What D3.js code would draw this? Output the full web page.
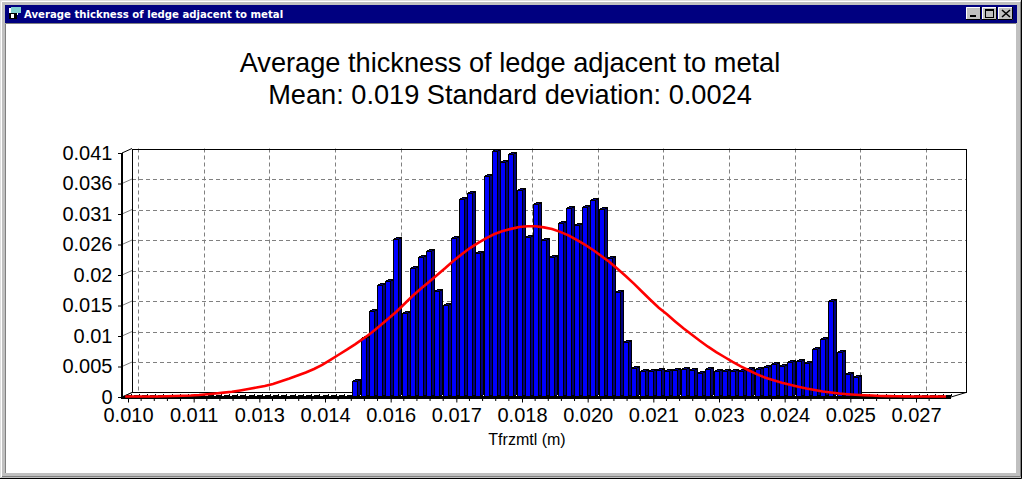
<!DOCTYPE html>
<html><head><meta charset="utf-8">
<script src="https://cdn.jsdelivr.net/npm/d3@7/dist/d3.min.js"></script>
<style>html,body{margin:0;padding:0;background:#fff;overflow:hidden}svg{display:block}</style>
</head><body><svg id="c" width="1022" height="479"></svg>
<script>
const windowTitle = "Average thickness of ledge adjacent to metal";
const titleLines = ["Average thickness of ledge adjacent to metal", "Mean: 0.019 Standard deviation: 0.0024"];
const xLabel = "Tfrzmtl (m)";
const xTickValues = [0.0100,0.0114,0.0128,0.0142,0.0156,0.0170,0.0184,0.0198,0.0212,0.0226,0.0240,0.0254,0.0268];
const xTickLabels = ["0.010","0.011","0.013","0.014","0.016","0.017","0.018","0.020","0.021","0.023","0.024","0.025","0.027"];
const yTickValues = [0,0.005125,0.01025,0.015375,0.0205,0.025625,0.03075,0.035875,0.041];
const yTickLabels = ["0","0.005","0.01","0.015","0.02","0.026","0.031","0.036","0.041"];
const binStart = 0.009883, binWidth = 0.000175;
const leadingZeroBins = new Array(28).fill(0);
const histogramBars = [.00274,.00986,.0144,.01877,.01949,.0265,.01406,.02163,.02347,.02448,.01776,.01546,.02667,.03322,.03423,.02415,.03708,.0414,.03944,.04078,.03473,.02694,.03238,.02633,.02352,.02919,.03171,.0289,.03193,.03305,.03154,.02331,.01759,.00919,.00492,.00437,.00442,.00454,.00442,.00454,.00465,.00454,.00398,.0047,.00437,.00442,.00442,.00442,.00465,.00476,.00499,.00549,.00526,.00583,.006,.00566,.00801,.0097,.01613,.00751,.00392,.00341];
const trailingZeroBins = new Array(11).fill(0);
const normalCurveMilli = [.08,.08,.08,.08,.08,.12,.17,.2,.25,.34,.47,.6,.74,.87,1.09,1.34,1.6,1.85,2.2,2.65,3.1,3.6,4.12,4.7,5.38,6.22,7.1,7.95,8.85,9.8,10.8,11.93,13.1,14.28,15.62,16.97,18.2,19.32,20.5,21.67,22.9,24.0,25.03,25.9,26.71,27.38,27.89,28.25,28.56,28.7,28.7,28.5,28.22,27.75,27.15,26.4,25.6,24.7,23.7,22.68,21.5,20.3,19.0,17.64,16.3,15.0,13.9,12.7,11.55,10.5,9.45,8.45,7.55,6.72,5.9,5.15,4.45,3.8,3.25,2.8,2.4,2.05,1.72,1.43,1.18,.92,.76,.59,.47,.37,.29,.24,.18,.15,.12,.1,.08,.08,.08,.08,.08];

const bins = leadingZeroBins.concat(histogramBars, trailingZeroBins);
const svg = d3.select("#c");
const FONT = "'Liberation Sans', Arial, sans-serif";

// window chrome
svg.append("rect").attr("width",1022).attr("height",479).attr("fill","#c0c0c0");
svg.append("path").attr("d","M0.5 478V0.5H1021").attr("stroke","#dfdfdf").attr("fill","none");
svg.append("path").attr("d","M1.5 477V1.5H1020").attr("stroke","#fff").attr("fill","none");
svg.append("path").attr("d","M0 478.5H1021.5V0").attr("stroke","#000").attr("fill","none");
svg.append("path").attr("d","M2 476.5H1020.5V2").attr("stroke","#808080").attr("fill","none");
svg.append("rect").attr("x",5).attr("y",5).attr("width",1012).attr("height",18).attr("fill","#000080");
svg.append("rect").attr("x",5).attr("y",23).attr("width",1011).attr("height",450).attr("fill","#fff");
svg.append("path").attr("d","M5.5 473V23.5H1016").attr("stroke","#808080").attr("fill","none");
// icon
svg.append("rect").attr("x",9).attr("y",8).attr("width",9).attr("height",7).attr("fill","#fff");
svg.append("rect").attr("x",11).attr("y",7).attr("width",10).attr("height",6).attr("fill","#7fd0d0");
svg.append("rect").attr("x",9).attr("y",13).attr("width",8).attr("height",6).attr("fill","#000");
svg.append("rect").attr("x",11).attr("y",14).attr("width",3).attr("height",4).attr("fill","#fff");
svg.append("text").attr("x",24).attr("y",18).attr("fill","#fff")
  .attr("font-family","'DejaVu Sans'").attr("font-weight","bold").attr("font-size",10.15).text(windowTitle);
// buttons
[966,982,998].forEach(x=>{
  svg.append("rect").attr("x",x).attr("y",7).attr("width",15).attr("height",13).attr("fill","#c0c0c0");
  svg.append("path").attr("d",`M${x+.5} 19.5V7.5H${x+15}`).attr("stroke","#fff").attr("fill","none");
  svg.append("path").attr("d",`M${x} 19.5H${x+14.5}V7`).attr("stroke","#000").attr("fill","none");
});
svg.append("rect").attr("x",970).attr("y",15).attr("width",6).attr("height",2).attr("fill","#000");
svg.append("rect").attr("x",985.5).attr("y",9.5).attr("width",8).attr("height",8).attr("fill","none").attr("stroke","#000");
svg.append("rect").attr("x",985).attr("y",9).attr("width",9).attr("height",2).attr("fill","#000");
svg.append("path").attr("d","M1002 10L1010 17M1010 10L1002 17").attr("stroke","#000").attr("stroke-width",1.6);

// scales
const x = d3.scaleLinear().domain([0.0100,0.0268]).range([128,916]);
const y = d3.scaleLinear().domain([0,0.041]).range([397,153]);
const DX = 10, DY = -4.5;
const g = svg.append("g");

// title
titleLines.forEach((t,i)=>g.append("text").attr("x",510).attr("y",72+i*32).attr("text-anchor","middle")
  .attr("font-family",FONT).attr("font-size",27.2).attr("fill","#000").text(t));

// back wall grid
const backRight = 966, backLeft = 122+DX;
yTickValues.slice(1,-1).forEach(v=>{
  g.append("line").attr("x1",backLeft).attr("x2",backRight).attr("y1",Math.round(y(v)+DY)+.5).attr("y2",Math.round(y(v)+DY)+.5)
   .attr("stroke","#808080").attr("stroke-dasharray","4 3");
});
xTickValues.forEach(v=>{
  g.append("line").attr("x1",Math.round(x(v)+DX)+.5).attr("x2",Math.round(x(v)+DX)+.5).attr("y1",y(0.041)+DY).attr("y2",y(0)+DY)
   .attr("stroke","#808080").attr("stroke-dasharray","4 3");
});
yTickValues.forEach((v,i)=>{
  g.append("line").attr("x1",122).attr("x2",backLeft).attr("y1",y(v)).attr("y2",y(v)+DY)
   .attr("stroke",i==yTickValues.length-1?"#000":"#808080");
});
g.append("path").attr("fill","none").attr("stroke","#000").attr("shape-rendering","crispEdges")
  .attr("d",`M${backLeft+.5} ${y(0)+DY}V${y(0.041)+DY+.5}H${backRight+.5}V${y(0)+DY}`);
g.append("path").attr("fill","none").attr("stroke","#000")
  .attr("d",`M122 ${y(0)}L${backLeft} ${y(0)+DY}H${backRight}L951 ${y(0)}`);

// bars
const barW = 5, depthX = 3, depthY = -2;
const bg = g.append("g").attr("stroke","#000").attr("stroke-width",1).attr("shape-rendering","crispEdges");
bins.forEach((v,i)=>{
  const l = Math.round(x(binStart+i*binWidth))+.5, r = l+barW, t = Math.round(y(v))+.5, b = y(0)-.5;
  bg.append("path").attr("fill","#000080")
    .attr("d",`M${r} ${t}L${r+depthX} ${t+depthY}V${b+depthY}L${r} ${b}Z`);
  bg.append("path").attr("fill","#000080")
    .attr("d",`M${l} ${t}L${l+depthX} ${t+depthY}H${r+depthX}L${r} ${t}Z`);
  bg.append("rect").attr("x",l).attr("y",t).attr("width",barW).attr("height",Math.max(0,b-t)).attr("fill","#0000ff");
});

// axes
const xAxis = d3.axisBottom(x).tickValues(xTickValues).tickFormat((d,i)=>xTickLabels[i]).tickSize(5).tickPadding(5.5);
const xg = g.append("g").attr("transform",`translate(0,${y(0)+.5})`).call(xAxis);
xg.select(".domain").remove();
xg.selectAll("line").attr("stroke","#000");
xg.selectAll("text").attr("font-family",FONT).attr("font-size",20).attr("fill","#000");
xTickValues.forEach(v=>[.2,.4,.6,.8].forEach(f=>{
  if (v+f*0.0014 < 0.0272) g.append("line").attr("x1",x(v+f*0.0014)).attr("x2",x(v+f*0.0014))
    .attr("y1",y(0)+1).attr("y2",y(0)+4).attr("stroke","#000");
}));
g.append("line").attr("x1",121).attr("x2",951).attr("y1",y(0)+.5).attr("y2",y(0)+.5).attr("stroke","#000").attr("stroke-width",2.5).attr("shape-rendering","crispEdges");
const yAxis = d3.axisLeft(y).tickValues(yTickValues).tickFormat((d,i)=>yTickLabels[i]).tickSize(4).tickPadding(5.5);
const yg = g.append("g").attr("transform","translate(122,0)").call(yAxis);
yg.select(".domain").remove();
yg.selectAll("line").attr("stroke","#000");
yg.selectAll("text").attr("font-family",FONT).attr("font-size",20).attr("fill","#000");
g.append("line").attr("x1",122).attr("x2",122).attr("y1",y(0.041)).attr("y2",y(0)+1).attr("stroke","#000").attr("stroke-width",2);

// normal curve
const line = d3.line().x((d,i)=>x(binStart+i*binWidth)+2.7).y(d=>y(d/1000));
g.append("path").datum(normalCurveMilli).attr("fill","none").attr("stroke","#ff0000").attr("stroke-width",2.6).attr("d",line);

g.append("text").attr("x",527).attr("y",445).attr("text-anchor","middle")
  .attr("font-family",FONT).attr("font-size",16).attr("fill","#000").text(xLabel);
</script></body></html>
